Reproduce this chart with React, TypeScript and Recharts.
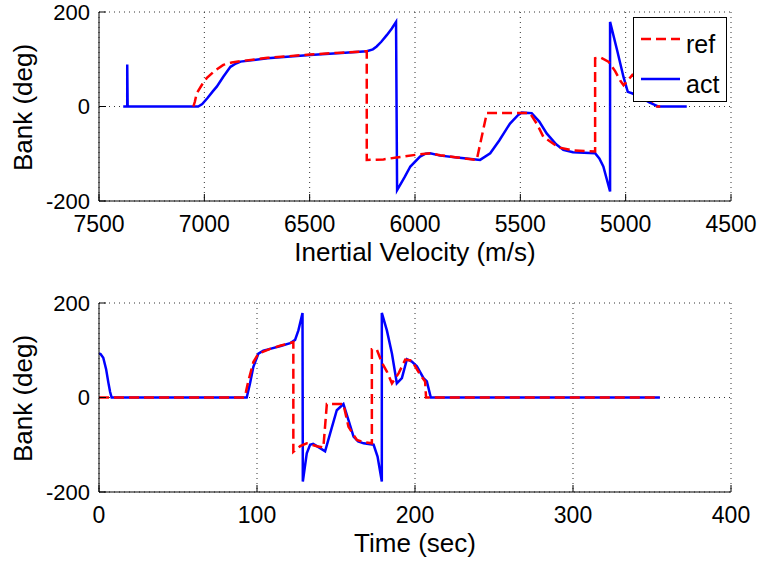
import React from 'react';
import { LineChart, Line, XAxis, YAxis, CartesianGrid, Legend } from 'recharts';

const FONT = '"Liberation Sans", Arial, Helvetica, sans-serif';

// top panel: bank angle vs inertial velocity (m/s)
const velRef = [7052, 7045, 7036, 7010, 6989, 6950, 6910, 6870, 6828, 6700, 6498, 6350, 6229, 6229, 6150, 6088, 5976, 5928, 5880, 5800, 5707, 5659, 5454, 5420, 5391, 5340, 5312, 5250, 5145, 5145, 5121, 5082, 5050, 5026, 5010, 4990, 4968, 4940, 4900, 4870, 4852, 4836];
const bankRefV = [0, 10, 28, 47, 60, 76, 88, 93, 96, 103, 110, 114, 117, -113, -112, -108, -101, -99, -103, -108, -113, -14, -14, -38, -64, -80, -87, -93, -95, 102, 104, 95, 75, 55, 45, 55, 67, 60, 35, 10, 0, 0];

const velAct = [7385, 7366, 7366, 7364, 7029, 7010, 6985, 6960, 6941, 6910, 6876, 6850, 6828, 6700, 6498, 6350, 6229, 6200, 6182, 6160, 6134, 6110, 6090, 6085, 6050, 6022, 5976, 5950, 5928, 5880, 5800, 5691, 5643, 5600, 5549, 5510, 5494, 5446, 5410, 5375, 5330, 5296, 5250, 5145, 5125, 5106, 5074, 5074, 5040, 5010, 4990, 4970, 4930, 4890, 4870, 4846, 4710];
const bankActV = [0, 0, 89, 0, 0, 5, 18, 32, 42, 63, 84, 91, 95, 102, 109, 113, 117, 121, 127, 137, 151, 165, 179, -177, -150, -127, -106, -100, -99, -104, -108, -113, -99, -72, -36, -18, -13, -14, -32, -57, -80, -92, -97, -99, -110, -127, -180, 179, 118, 62, 31, 28, 20, 9, 5, 0, 0];

// bottom panel: bank angle vs time (sec)
const timeRef = [0, 91.8, 93, 94.6, 97.7, 100.9, 108.3, 115, 123, 123, 127.3, 131.5, 137.9, 142, 144.2, 154.7, 157.9, 163.2, 168, 172.7, 172.7, 175.9, 179, 182.2, 185.4, 189.6, 193.8, 198, 203.3, 206.4, 207, 355];
const bankRefT = [0, 0, 12, 36, 75, 93, 103, 110, 117, -115, -103, -97, -103, -106, -14, -14, -62, -90, -95, -97, 102, 101, 74, 55, 30, 51, 80, 78, 48, 34, 0, 0];

const timeAct = [0, 1, 2.7, 4.5, 5.9, 7, 8, 93.5, 95.6, 97.7, 100.9, 104, 108.3, 115, 121, 124.1, 126.2, 128.8, 129, 131.5, 133.6, 135.5, 137.9, 143.1, 146.3, 150.5, 154.7, 157.9, 161.1, 164, 167.5, 173.8, 176.3, 179, 179, 182.2, 185.4, 188.5, 191.7, 194.9, 198, 201.2, 205.4, 207.5, 210, 355];
const bankActT = [93, 92, 84, 60, 32, 12, 0, 0, 30, 65, 93, 99, 103, 109, 115, 122, 142, 179, -178, -118, -100, -98, -103, -114, -76, -27, -14, -48, -83, -93, -97, -100, -125, -178, 179, 142, 93, 30, 41, 81, 76, 66, 41, 34, 0, 0];

const velTicks = [7500, 7000, 6500, 6000, 5500, 5000, 4500];
const timeTicks = [0, 100, 200, 300, 400];
const bankTicks = [-200, 0, 200];

const SERIES = ['ref', 'act'];
const STYLE: Record<string, { color: string; dash?: string }> = {
  ref: { color: '#ff0000', dash: '10 5' },
  act: { color: '#0000ff' },
};

const zip = (xs: number[], ys: number[]) => xs.map((x, i) => ({ x, bank: ys[i] }));

const XTitle = ({ cx, cy, text }: any) => (
  <text x={cx} y={cy} textAnchor="middle" fontSize={26} fontFamily={FONT} fill="#000">{text}</text>
);

const YTitle = ({ cx, cy, text }: any) => (
  <text x={cx} y={cy} dy="0.35em" textAnchor="middle" fontSize={26} fontFamily={FONT} fill="#000"
    transform={`rotate(-90 ${cx} ${cy})`}>{text}</text>
);

const LegendBox = () => (
  <svg width={94} height={85} style={{ display: 'block' }}>
    <rect x={0.5} y={0.5} width={93} height={84} fill="#fff" stroke="#000" />
    {SERIES.map((name, i) => (
      <g key={name}>
        <line x1={8} x2={47} y1={22 + i * 40} y2={22 + i * 40} stroke={STYLE[name].color} strokeWidth={2.5}
          strokeDasharray={STYLE[name].dash} />
        <text x={53} y={36 + i * 40} fontSize={25} fontFamily={FONT} fill="#000">{name}</text>
      </g>
    ))}
  </svg>
);

interface PanelProps {
  refData: { x: number; bank: number }[];
  actData: { x: number; bank: number }[];
  xDomain: [number, number];
  xTicks: number[];
  reversed?: boolean;
  xLabel: string;
  showLegend?: boolean;
  height: number;
  top: number;
  bottom: number;
}

const Panel: React.FC<PanelProps> = ({ refData, actData, xDomain, xTicks, reversed, xLabel, showLegend, height, top, bottom }) => {
  const plotBottom = height - bottom - 60;
  const midY = (top + plotBottom) / 2;
  return (
    <LineChart width={761} height={height} margin={{ top, right: 30, bottom, left: 39 }}>
      <CartesianGrid stroke="#333" strokeDasharray="1 4" />
      <XAxis dataKey="x" type="number" domain={xDomain} ticks={xTicks} reversed={reversed} interval={0}
        allowDataOverflow height={60} tickSize={-7} tickMargin={22}
        axisLine={{ stroke: '#000' }} tickLine={{ stroke: '#000' }}
        tick={{ fontSize: 23, fill: '#000', fontFamily: FONT }}
        label={<XTitle cx={415} cy={plotBottom + 60} text={xLabel} />} />
      <XAxis xAxisId="top" orientation="top" dataKey="x" type="number" domain={xDomain} ticks={xTicks}
        reversed={reversed} interval={0} allowDataOverflow height={0} tickSize={-7} tick={false}
        axisLine={{ stroke: '#000' }} tickLine={{ stroke: '#000' }} />
      <YAxis type="number" domain={[-200, 200]} ticks={bankTicks} interval={0} allowDataOverflow width={60}
        tickSize={-7} tickMargin={16} axisLine={{ stroke: '#000' }} tickLine={{ stroke: '#000' }}
        tick={{ fontSize: 22, fill: '#000', fontFamily: FONT }}
        label={<YTitle cx={23} cy={midY + 1} text="Bank (deg)" />} />
      <YAxis yAxisId="right" orientation="right" type="number" domain={[-200, 200]} ticks={bankTicks}
        interval={0} allowDataOverflow width={0} tickSize={-7} tick={false}
        axisLine={{ stroke: '#000' }} tickLine={{ stroke: '#000' }} />
      <Line data={actData} dataKey="bank" name="act" type="linear" stroke={STYLE.act.color} strokeWidth={2.5}
        dot={false} activeDot={false} isAnimationActive={false} />
      <Line data={refData} dataKey="bank" name="ref" type="linear" stroke={STYLE.ref.color} strokeWidth={2.5}
        strokeDasharray={STYLE.ref.dash} dot={false} activeDot={false} isAnimationActive={false} />
      {showLegend && (
        <Legend layout="vertical" align="center" verticalAlign="middle" content={<LegendBox />}
          wrapperStyle={{ left: 633, top: 17, width: 94, height: 85 }} />
      )}
    </LineChart>
  );
};

export default function App() {
  return (
    <div style={{ position: 'absolute', left: 0, top: 0, width: 761, height: 567, background: '#fff' }}>
      <div style={{ position: 'absolute', left: 0, top: 0 }}>
        <Panel refData={zip(velRef, bankRefV)} actData={zip(velAct, bankActV)} xDomain={[4500, 7500]}
          xTicks={velTicks} reversed xLabel="Inertial Velocity (m/s)" showLegend height={290} top={12} bottom={29} />
      </div>
      <div style={{ position: 'absolute', left: 0, top: 290 }}>
        <Panel refData={zip(timeRef, bankRefT)} actData={zip(timeAct, bankActT)} xDomain={[0, 400]}
          xTicks={timeTicks} xLabel="Time (sec)" height={277} top={13} bottom={15} />
      </div>
    </div>
  );
}
